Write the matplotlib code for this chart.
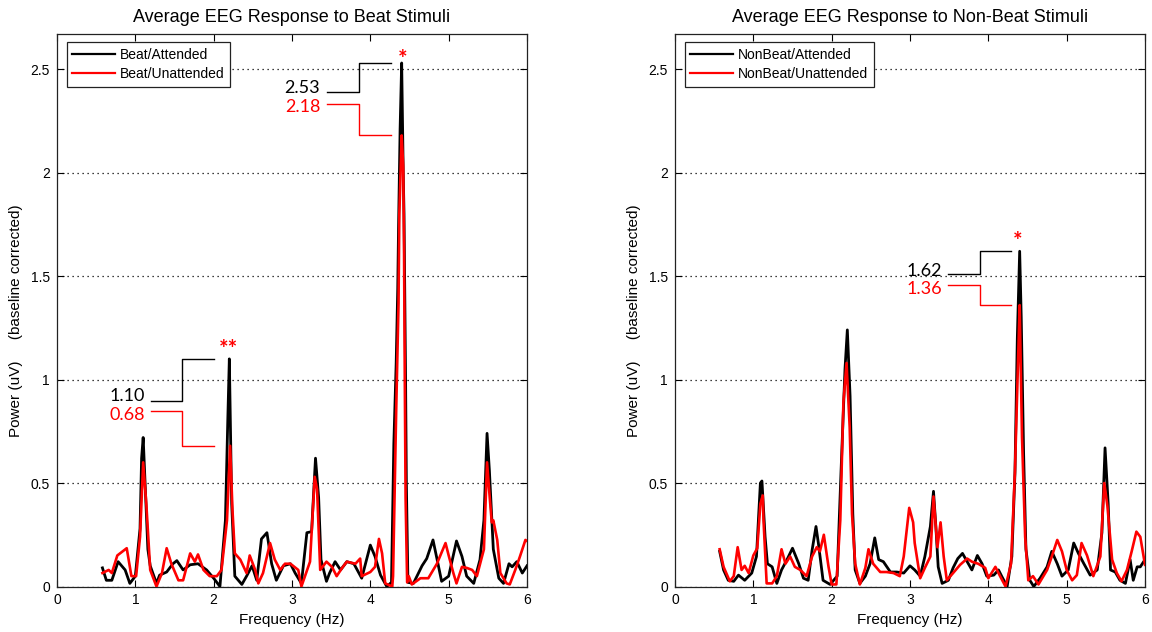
import matplotlib
matplotlib.use('Agg')
import matplotlib.pyplot as plt
from matplotlib.lines import Line2D

plt.rcParams['font.family'] = ['Liberation Sans', 'DejaVu Sans']

# ---------------- data ----------------
beat_att_f = [0.58, 0.63, 0.70, 0.78, 0.87, 0.93, 1.00, 1.06, 1.08, 1.10, 1.13, 1.16, 1.19, 1.27, 1.31,
              1.40, 1.48, 1.53, 1.61, 1.70, 1.80, 1.91, 2.00, 2.08, 2.15, 2.18, 2.20, 2.23, 2.27, 2.36,
              2.42, 2.49, 2.55, 2.61, 2.68, 2.74, 2.80, 2.89, 2.98, 3.04, 3.12, 3.19, 3.25, 3.30, 3.34,
              3.37, 3.44, 3.48, 3.55, 3.62, 3.70, 3.79, 3.89, 4.00, 4.06, 4.13, 4.21, 4.27, 4.30, 4.33,
              4.35, 4.36, 4.38, 4.40, 4.42, 4.43, 4.45, 4.46, 4.48, 4.55, 4.66, 4.72, 4.80, 4.85, 4.91,
              5.00, 5.10, 5.17, 5.23, 5.32, 5.40, 5.45, 5.49, 5.52, 5.57, 5.64, 5.70, 5.77, 5.81, 5.87,
              5.94, 6.00]
beat_att_v = [0.09, 0.03, 0.03, 0.12, 0.08, 0.015, 0.05, 0.28, 0.62, 0.72, 0.45, 0.18, 0.10, 0.015, 0.055,
              0.07, 0.11, 0.125, 0.08, 0.105, 0.11, 0.08, 0.04, 0.0, 0.32, 0.80, 1.10, 0.40, 0.05, 0.01,
              0.05, 0.10, 0.03, 0.23, 0.26, 0.11, 0.03, 0.10, 0.11, 0.065, 0.015, 0.26, 0.265, 0.62, 0.43,
              0.13, 0.025, 0.065, 0.12, 0.08, 0.12, 0.11, 0.04, 0.20, 0.145, 0.055, 0.0, 0.02, 0.69, 1.08,
              1.44, 1.73, 2.21, 2.53, 2.0, 1.8, 1.0, 0.5, 0.02, 0.015, 0.10, 0.135, 0.225, 0.135, 0.025,
              0.05, 0.22, 0.145, 0.05, 0.015, 0.13, 0.32, 0.74, 0.56, 0.18, 0.04, 0.015, 0.11, 0.095, 0.12,
              0.065, 0.10]

beat_unatt_f = [0.58, 0.66, 0.70, 0.77, 0.89, 0.95, 1.01, 1.06, 1.10, 1.14, 1.19, 1.27, 1.34, 1.40, 1.46,
                1.55, 1.61, 1.70, 1.76, 1.80, 1.87, 1.95, 2.04, 2.10, 2.17, 2.21, 2.24, 2.27, 2.34, 2.42,
                2.46, 2.53, 2.57, 2.63, 2.72, 2.78, 2.85, 2.91, 2.98, 3.08, 3.12, 3.23, 3.29, 3.32, 3.36,
                3.44, 3.51, 3.57, 3.64, 3.70, 3.81, 3.87, 3.89, 4.00, 4.06, 4.11, 4.15, 4.19, 4.28, 4.29,
                4.33, 4.36, 4.37, 4.40, 4.42, 4.43, 4.44, 4.45, 4.47, 4.49, 4.53, 4.64, 4.74, 4.85, 4.96,
                5.00, 5.06, 5.10, 5.17, 5.23, 5.30, 5.36, 5.45, 5.49, 5.52, 5.55, 5.57, 5.62, 5.66, 5.74,
                5.78, 5.85, 5.91, 5.98, 6.00]
beat_unatt_v = [0.065, 0.08, 0.065, 0.15, 0.185, 0.05, 0.05, 0.24, 0.60, 0.40, 0.08, 0.0, 0.065, 0.185, 0.11,
                0.03, 0.03, 0.16, 0.12, 0.155, 0.08, 0.05, 0.05, 0.08, 0.32, 0.68, 0.37, 0.16, 0.13, 0.065,
                0.15, 0.08, 0.015, 0.065, 0.21, 0.13, 0.08, 0.11, 0.11, 0.08, 0.0, 0.12, 0.53, 0.47, 0.08,
                0.12, 0.095, 0.05, 0.09, 0.12, 0.11, 0.135, 0.05, 0.07, 0.095, 0.23, 0.16, 0.015, 0.0, 0.05,
                0.85, 1.37, 1.8, 2.18, 2.03, 1.65, 1.0, 0.43, 0.02, 0.05, 0.01, 0.04, 0.04, 0.11, 0.21,
                0.15, 0.065, 0.015, 0.095, 0.09, 0.08, 0.05, 0.18, 0.60, 0.45, 0.31, 0.32, 0.225, 0.065, 0.015,
                0.01, 0.08, 0.145, 0.225, 0.22]

nonbeat_att_f = [0.57, 0.62, 0.68, 0.75, 0.81, 0.89, 0.98, 1.04, 1.09, 1.11, 1.15, 1.18, 1.24, 1.30, 1.36,
                 1.43, 1.50, 1.58, 1.64, 1.70, 1.75, 1.80, 1.83, 1.89, 1.98, 2.07, 2.12, 2.17, 2.20, 2.235,
                 2.27, 2.30, 2.36, 2.43, 2.49, 2.55, 2.60, 2.66, 2.75, 2.83, 2.92, 3.00, 3.06, 3.13, 3.19,
                 3.26, 3.30, 3.33, 3.36, 3.41, 3.49, 3.55, 3.61, 3.67, 3.73, 3.79, 3.86, 3.92, 3.98, 4.07,
                 4.13, 4.17, 4.24, 4.30, 4.34, 4.37, 4.40, 4.42, 4.45, 4.48, 4.53, 4.58, 4.66, 4.75, 4.81,
                 4.88, 4.94, 5.02, 5.09, 5.15, 5.22, 5.30, 5.39, 5.45, 5.49, 5.53, 5.56, 5.62, 5.68, 5.75,
                 5.81, 5.85, 5.90, 5.94, 6.00]
nonbeat_att_v = [0.17, 0.08, 0.03, 0.025, 0.055, 0.03, 0.065, 0.145, 0.50, 0.51, 0.24, 0.11, 0.095, 0.015, 0.08,
                 0.13, 0.185, 0.11, 0.04, 0.03, 0.175, 0.29, 0.21, 0.03, 0.01, 0.05, 0.56, 1.05, 1.24, 0.92,
                 0.35, 0.08, 0.015, 0.05, 0.11, 0.235, 0.13, 0.12, 0.07, 0.07, 0.065, 0.10, 0.08, 0.05, 0.145,
                 0.29, 0.46, 0.29, 0.095, 0.015, 0.03, 0.09, 0.135, 0.16, 0.12, 0.08, 0.15, 0.11, 0.05, 0.055,
                 0.08, 0.05, 0.0, 0.145, 0.55, 1.2, 1.62, 1.3, 0.65, 0.18, 0.03, 0.0, 0.04, 0.095, 0.17,
                 0.11, 0.05, 0.08, 0.21, 0.16, 0.11, 0.055, 0.08, 0.26, 0.67, 0.40, 0.08, 0.07, 0.03, 0.015,
                 0.13, 0.03, 0.095, 0.095, 0.13]

nonbeat_unatt_f = [0.57, 0.62, 0.70, 0.75, 0.80, 0.85, 0.89, 0.94, 1.00, 1.05, 1.09, 1.12, 1.13, 1.17, 1.24,
                   1.30, 1.36, 1.41, 1.47, 1.53, 1.60, 1.68, 1.75, 1.81, 1.85, 1.90, 1.96, 2.00, 2.06, 2.11,
                   2.15, 2.19, 2.23, 2.26, 2.30, 2.36, 2.43, 2.47, 2.53, 2.62, 2.70, 2.79, 2.87, 2.92, 2.99,
                   3.04, 3.06, 3.13, 3.19, 3.26, 3.30, 3.35, 3.39, 3.43, 3.47, 3.55, 3.64, 3.73, 3.79, 3.87,
                   3.96, 4.00, 4.09, 4.15, 4.22, 4.29, 4.34, 4.38, 4.40, 4.43, 4.47, 4.51, 4.57, 4.64, 4.75,
                   4.81, 4.88, 4.94, 5.00, 5.07, 5.13, 5.19, 5.26, 5.34, 5.43, 5.48, 5.52, 5.58, 5.64, 5.70,
                   5.77, 5.83, 5.89, 5.94, 6.00]
nonbeat_unatt_v = [0.18, 0.095, 0.025, 0.05, 0.19, 0.08, 0.10, 0.065, 0.15, 0.185, 0.40, 0.44, 0.32, 0.015, 0.015,
                   0.05, 0.18, 0.11, 0.145, 0.095, 0.08, 0.05, 0.145, 0.19, 0.17, 0.25, 0.095, 0.01, 0.01, 0.32,
                   0.89, 1.08, 0.77, 0.35, 0.11, 0.01, 0.09, 0.18, 0.11, 0.07, 0.07, 0.065, 0.05, 0.145, 0.38,
                   0.31, 0.21, 0.04, 0.09, 0.145, 0.435, 0.19, 0.31, 0.145, 0.03, 0.065, 0.105, 0.135, 0.12, 0.11,
                   0.09, 0.04, 0.095, 0.05, 0.0, 0.11, 0.56, 1.1, 1.36, 0.72, 0.24, 0.03, 0.05, 0.01, 0.08,
                   0.145, 0.225, 0.17, 0.08, 0.03, 0.055, 0.21, 0.15, 0.05, 0.145, 0.50, 0.39, 0.13, 0.065, 0.025,
                   0.08, 0.17, 0.265, 0.24, 0.105]

titles = ['Average EEG Response to Beat Stimuli', 'Average EEG Response to Non-Beat Stimuli']
legend_labels = [['Beat/Attended', 'Beat/Unattended'], ['NonBeat/Attended', 'NonBeat/Unattended']]
x_ticks = [0, 1, 2, 3, 4, 5, 6]
y_ticks = [0, 0.5, 1, 1.5, 2, 2.5]
y_tick_labels = ['0', '0.5', '1', '1.5', '2', '2.5']
xlabel = 'Frequency (Hz)'
ylabel = 'Power (uV)     (baseline corrected)'

# peak annotations: (attended value, unattended value, stars)
beat_peak_ann = [(1.10, 0.68, '**'), (2.53, 2.18, '*')]
nonbeat_peak_ann = [(1.62, 1.36, '*')]

# ---------------- layout ----------------
W, H = 1152, 632
fig = plt.figure(figsize=(W / 100, H / 100), dpi=100)
ax_h = 586.5 - 34
ax1 = fig.add_axes([57 / W, (H - 586.5) / H, 470 / W, ax_h / H])
ax2 = fig.add_axes([675 / W, (H - 586.5) / H, 470 / W, ax_h / H])

BLACK = '#000000'
RED = '#ff0000'


def style(ax, title):
    ax.set_xlim(0, 6)
    ax.set_ylim(0, 2.67)
    ax.set_xticks(x_ticks)
    ax.set_xticklabels([str(t) for t in x_ticks])
    ax.set_yticks(y_ticks)
    ax.set_yticklabels(y_tick_labels)
    ax.tick_params(direction='in', top=True, right=True, length=5, width=0.8,
                   labelsize=10, pad=5, colors='black')
    for s in ax.spines.values():
        s.set_linewidth(0.9)
        s.set_color('#222222')
    ax.yaxis.grid(True, linestyle=(0, (1, 3)), color='black', linewidth=0.9)
    ax.xaxis.grid(False)
    ax.set_axisbelow(True)
    ax.set_title(title, fontsize=13, pad=9)
    ax.set_xlabel(xlabel, fontsize=11, labelpad=4)
    ax.set_ylabel(ylabel, fontsize=11, labelpad=5)
    ax.yaxis.set_label_coords(-0.072, 0.482)


def bracket(ax, ann, text_right, bx0, bxm, bx1, yb_text, yr_text, yb_low, yr_high, star_x, star_y):
    vb, vr, stars = ann
    ax.plot([bx0, bxm, bxm, bx1], [yb_low, yb_low, vb, vb], color=BLACK, lw=1.0, zorder=5)
    ax.plot([bx0, bxm, bxm, bx1], [yr_high, yr_high, vr, vr], color=RED, lw=1.0, zorder=5)
    ax.text(text_right, yb_text, f'{vb:.2f}', ha='right', va='center', color=BLACK,
            fontsize=13, family=['Lato', 'DejaVu Sans'])
    ax.text(text_right, yr_text, f'{vr:.2f}', ha='right', va='center', color=RED,
            fontsize=13, family=['Lato', 'DejaVu Sans'])
    ax.text(star_x, star_y, stars, ha='center', va='baseline', color=RED,
            fontsize=16, fontweight='bold', family=['Lato', 'DejaVu Sans'])


panels = [
    (ax1, beat_att_f, beat_att_v, beat_unatt_f, beat_unatt_v, titles[0], legend_labels[0]),
    (ax2, nonbeat_att_f, nonbeat_att_v, nonbeat_unatt_f, nonbeat_unatt_v, titles[1], legend_labels[1]),
]
for ax, fa, va, fu, vu, title, labs in panels:
    style(ax, title)
    ax.plot(fa, va, color=BLACK, lw=2.0, zorder=3)
    ax.plot(fu, vu, color=RED, lw=1.9, zorder=4)
    handles = [Line2D([], [], color=BLACK, lw=1.6), Line2D([], [], color=RED, lw=1.6)]
    leg = ax.legend(handles, labs, loc='upper left', bbox_to_anchor=(0.0206, 0.985),
                    borderaxespad=0, fancybox=False, edgecolor='#222222', framealpha=1,
                    fontsize=10, handlelength=3.1, handletextpad=0.36, labelspacing=0.37,
                    borderpad=0.4)
    leg.get_frame().set_linewidth(0.9)
    leg.set_zorder(10)

bracket(ax1, beat_peak_ann[0], 1.12, 1.20, 1.60, 2.00, 0.92, 0.83, 0.898, 0.848, 2.19, 1.115)
bracket(ax1, beat_peak_ann[1], 3.36, 3.45, 3.85, 4.26, 2.407, 2.318, 2.391, 2.33, 4.41, 2.515)
bracket(ax2, nonbeat_peak_ann[0], 3.41, 3.49, 3.89, 4.29, 1.525, 1.436, 1.508, 1.455, 4.38, 1.635)

fig.savefig('out.png', dpi=100)
